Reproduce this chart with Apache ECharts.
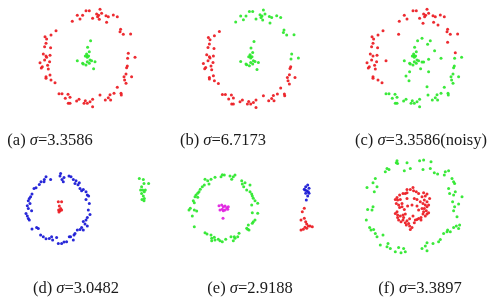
<!DOCTYPE html>
<html><head><meta charset="utf-8">
<script src="https://cdn.jsdelivr.net/npm/echarts@6/dist/echarts.min.js"></script>
<style>html,body{margin:0;padding:0;background:#fff}#c{width:492px;height:306px}</style>
</head><body><div id="c"></div>
<script>
// Panels (a),(b): same two-circle data set. Units: px relative to ring centre, y up.
const ringArcB = [[12.7,48.7],[-1.3,47.3],[2,47.3],[9.3,44],[11.3,42.7],[10.3,41.3],[14.3,44.7],[18.7,42.3],[21,41.3],[26,43],[30,41.3],[-10,42.7],[-4.7,42.7],[-7.3,39],[5.3,39.7],[12,38.7],[-15,36.7],[19.3,35.7],[33.3,28.7],[32.7,26.3],[36,23.7],[43.3,24],[41,4.7],[40.3,-0.3],[47.7,0.7]];
const ringRestB = [[-31.3,27.3],[-42.3,21.3],[-36.3,23],[-40.7,19],[-41.3,14.7],[-42.7,11.3],[-36.7,10.3],[-44,4],[-40.7,0.7],[-41.3,2],[-37.3,2.7],[-42.7,-2],[-37.7,-3.7],[-47.3,-4.7],[-45,-8.7],[-46,-10],[-39.7,-7.3],[-39,-11],[-37.3,-17],[-41.3,-18.7],[-41.3,-20.3],[-36.3,-22],[-32.3,-24.7],[40,-8],[39.3,-9.7],[38.7,-16],[36.7,-18.7],[44.3,-18.7],[37.3,-22],[38.7,-25.3],[30,-29.3],[33.7,-35.3],[26.7,-35.3],[34,-37],[22.7,-36.7],[21,-39.7],[18,-42],[23.3,-42],[12.7,-37],[-28.3,-35.7],[-25.3,-35.7],[-19.3,-36.3],[-22,-40.3],[-17.3,-39.3],[-8.3,-41.3],[-10.7,-43],[-19,-45.3],[-17.3,-45.3],[-2,-42.7],[0,-45.3],[-3.3,-45.3],[5.3,-41.3],[2.7,-43.7],[5.3,-48.7]];
const coreAB = [[3.3,17.3],[0.3,10.7],[2,6.3],[-0.7,4],[-2,2],[0,2],[1.3,2],[0,0.7],[2.7,-2],[4.3,-2.7],[0,-3.7],[2,-5.3],[-1.3,-7],[-4,-6],[-10,-2.7],[7.7,-3.7],[6.3,-10.7],[-4.7,-5.3]];

// Panel (c): noisy data set
const cRed = [[12.7,48.7],[-1.3,47.3],[2,47.3],[9.3,44],[11.3,42.7],[10.3,41.3],[14.3,44.7],[18.7,42.3],[21,41.3],[26,43],[30,41.3],[-10,42.7],[-7.3,39],[5.3,39.7],[-15,36.7],[19.3,35.7],[23.7,33],[8.7,34.7],[-31.3,27.3],[33.3,28.7],[32.7,26.3],[36,23.7],[43.3,24],[-15.7,23.7],[-42.3,21.3],[-36.3,23],[-40.7,19],[-41.3,14.7],[-42.7,11.3],[-36.7,10.3],[33.3,15.7],[-44,4],[-41.3,2],[-37.3,2.7],[-42.7,-2],[-37.7,-3.7],[-47.3,-4.7],[-45,-8.7],[-46,-10],[-39.7,-7.3],[-39,-11],[-28.3,-2.7],[-41.3,-18.7],[-41.3,-20.3],[-36.3,-22],[-32.3,-24.7],[41,5.3]];
const cGreen = [[0.3,10.7],[2,6.3],[-0.7,4],[-2,2],[0,2],[1.3,2],[0,0.7],[2.7,-2],[4.3,-2.7],[0,-3.7],[2,-5.3],[-1.3,-7],[-4,-6],[-10,-2.7],[-4.7,-5.3],[6.3,-10.7],[3.3,17.3],[7.7,19.7],[16,17.3],[13.3,13.7],[20.3,7.3],[26.7,-0.3],[14.3,-1.3],[9.3,-4],[7.7,-4],[-4.7,-13.7],[14.3,-13.7],[-8.3,-18],[-5.3,-22.7],[12.7,-28.7],[40.3,-0.3],[47.3,0.7],[40,-8],[39.3,-9.7],[38.7,-16],[36.7,-18.7],[44.3,-18.7],[37.3,-22],[38.7,-25.3],[30,-29.3],[33.7,-35.3],[26.7,-35.3],[34,-37],[22.7,-36.7],[21,-39.7],[18,-42],[23.3,-42],[13.7,-37],[-28.3,-35.7],[-25.3,-35.7],[-19.3,-36.3],[-22,-40.3],[-17.3,-39.3],[-8.3,-41.3],[-10.7,-43],[-19,-45.3],[-17.3,-45.3],[-2,-42.7],[0,-45.3],[-3.3,-45.3],[5.3,-41.3],[2.7,-43.7],[5.3,-48.7]];

// Panel (d)
const dBlue = [[2.3,35.3],[1.7,32.7],[5.7,31.3],[3.7,29.3],[5,27],[10.7,32.7],[12.7,32],[15,29.3],[17.7,28],[21,26],[19.7,24],[16.7,25.3],[-7.7,29.3],[-12.3,32],[-14,29.3],[-17.3,27],[-19,24.3],[-14.3,27],[-22.3,21],[-24.3,20.3],[-26.3,14.7],[-27.7,12],[-29,10.3],[-30,8],[-28.3,5.3],[-31,3],[-30,0.3],[-26.7,-2],[-32.3,-4.7],[-31,-7.3],[-30,-9.7],[-29,-11.3],[21.7,20.3],[23.3,18],[25,19.3],[27.7,17],[29,13.7],[30.3,12.7],[27.7,9.3],[31,5.3],[30,-1.3],[31.7,-5.7],[29,-8.7],[27.7,-11.3],[25,-12.7],[26.7,-15.3],[29,-17.3],[23.3,-18.7],[21.7,-20.7],[19,-21.3],[25,-21.3],[-26.3,-20.3],[-21.7,-18.7],[-20,-19.7],[-17.7,-26.3],[-15,-28],[-12.3,-30],[-9,-29.7],[-6.7,-28],[-5.7,-31.3],[-1.7,-28.7],[0,-34.7],[3.3,-34.7],[5.7,-33.3],[8.3,-33],[12.3,-28],[15,-31.3],[15.7,-26.3],[11,-28],[16.7,-24.7]];
const dRed = [[0,7],[3.3,7],[1,2.7],[2.3,0.3],[0.3,-1.3],[3.3,-1.3],[1.7,-2],[0.7,-3.3]];
const dGreen = [[81,30.3],[85,29.3],[90.3,25.3],[85.7,25.3],[83.3,22],[82.3,18.7],[84.3,18.7],[87,18.7],[86,17],[83.3,15.3],[85,12.7],[86,10.3],[83.7,9.3],[85.7,8]];

// Panel (e)
const eGreen = [[-1.7,33.3],[0.3,33],[-3,31.3],[6,32],[9.3,31.3],[11,33],[7.7,28.7],[-9,30.7],[-13,28.7],[-16.3,27.3],[-19,28.7],[-15,24],[-19.7,23],[-21.7,21.3],[-23.7,18.7],[-25,16.3],[-26.3,14.7],[-28,13],[-29,11.3],[-26.3,10.7],[-30.7,7.3],[-29.7,5.3],[17.7,27.3],[18.3,24],[21,25.3],[19.7,21.3],[26,23],[22.7,18],[26,16.3],[27.7,14],[28.3,12],[29.3,9.7],[31,7.3],[33.7,4.7],[27.7,3],[28.3,-4.7],[33.7,-5.3],[-33.7,-0.3],[-35,-2],[-29.7,-2],[-27.3,-3],[-31.7,-8],[-29.7,-18.7],[31,-12],[29.3,-13.7],[28.3,-15.3],[24.3,-17],[22.7,-20.3],[25,-22],[23.7,-21.3],[15,-25.3],[13.7,-28.7],[11,-30.3],[9.3,-32.7],[10.3,-28.7],[-19,-24.7],[-17,-26],[-13,-27],[-12.3,-30.3],[-9.7,-29.3],[-9,-32],[-5.7,-31.3],[-4,-32.7],[-1.7,-33.7],[1.7,-31.3],[7,-28.7],[-12.3,-32.7]];
const eMagenta = [[-2.3,3],[-5,2.3],[-0.7,1.3],[1,2],[2.7,0.3],[3.7,-1.3],[1,-2],[-0.7,-2.7],[-1.7,-1.3],[-4,-2],[-1,-10.3],[4.3,1.3]];
const eBlue = [[83.7,23],[81.7,21.3],[85,19.7],[80.3,18.7],[82.7,17.3],[84.3,16.3],[85,14.7],[81.7,14.7],[83.7,12],[81,18],[82.3,8]];
const eRed = [[80.3,-0.3],[78.3,-3.7],[77,-12],[80.3,-10.3],[81.7,-13.7],[82.7,-16],[84.3,-18],[86,-18],[88.3,-18.7],[81,-19.3],[79.3,-21.3],[77,-22],[82.7,-20.3]];

// Panel (f)
const fGreen = [[-17.3,46],[-16.7,43.3],[-18,44],[-7.3,44],[5.3,46],[9.3,46.7],[16.7,45],[-27.3,38.3],[-29,35],[-25.3,37.3],[-10,36],[-4,38.3],[8.7,37.3],[16,38.3],[20,34],[23.3,32.7],[31,35],[30,31.7],[34.3,36],[-39,28.3],[-41.3,24],[-37.3,20],[-47.3,19.3],[-40,15],[37.7,28.3],[39.3,25],[40.3,23.3],[34.3,18.3],[35.3,13.3],[39.3,11.7],[41,15],[47.7,10],[38.3,5],[44.3,2.7],[40.3,0],[39.3,-4],[-46.7,-2.7],[-41.3,0],[-42.3,-3.3],[42.7,-10],[-48,-13.3],[-44.7,-20.7],[-43.3,-23.3],[-40.7,-22.7],[-39,-26.7],[-37.3,-30],[-31.3,-28.3],[-34,-38.3],[-27.3,-40],[-24,-41.7],[-19,-45],[-15.7,-40.7],[-10.7,-41.7],[-9,-45],[-13.3,-46],[7.7,-41.7],[11,-39.3],[12.7,-44],[12.7,-36],[18.7,-36.7],[24.3,-35],[26,-32.7],[29.3,-26.7],[33.3,-23.3],[36,-25],[39.3,-20.7],[42,-19.3],[44.3,-21.7],[45.3,-18.3],[-26.3,-36.7],[32.7,-25]];
const fRed = [[-7.3,17.3],[-9,13.3],[-11.3,13.3],[-14.7,11.7],[-17.3,9.3],[-19,7.3],[-16.7,6.7],[-14,7.3],[-12.3,3.3],[-18,3.3],[-15.7,1.7],[-14.7,-0.7],[-12.3,0],[-17.3,-5],[-19,-6.7],[-16.7,-8.3],[-14,-9.3],[-11.3,-8.3],[-9,-7.3],[-16.7,-10.7],[-15.7,-13.3],[-13.3,-15],[-11.3,-13.3],[-9,-16],[-7.3,-14],[-5.7,-16.7],[-4.7,-19.3],[-8,-18.3],[-2.3,-20.7],[-4,-22.7],[0,-16],[1,-13.3],[2.7,-12.7],[4.3,-11.7],[6.7,-10.7],[8.7,-7.3],[11,-9.3],[12.7,-7.3],[14.3,-6],[6.7,-13.3],[9.3,-5],[12,-4],[10,-1.7],[12.7,0],[14.3,1.7],[11,1.7],[8.7,3.3],[12.7,5],[10,6.7],[6,5],[7.7,10],[11,10.7],[12.7,12.7],[9.3,14],[4.3,13.3],[2,15],[-0.7,16],[-4,17.3],[-1.3,19.3],[-7.3,8.3],[0,8.3],[2.7,7.3],[-6.7,0.7],[-2.3,1.7],[-10,-2.7],[-10.7,-10.7],[-4.7,-12],[-1.3,-9.3],[4.3,-3.3],[7.7,-1.7],[15.3,8.3],[-7.3,14],[2.7,0.7]];

const captions = [
  ['(a) ', '3.3586'], ['(b) ', '6.7173'], ['(c) ', '3.3586(noisy)'],
  ['(d) ', '3.0482'], ['(e) ', '2.9188'], ['(f) ', '3.3897']
];

const RED = '#ec2026', GREEN = '#30e830', BLUE = '#1c1cd6', MAGENTA = '#e024e0';

// panel layout: centre in px, axis half-ranges (1 unit = 1 px)
const panels = [
  {cx: 87.3, cy: 58, x0: -60, x1: 60, y0: -55, y1: 55},
  {cx: 250.7, cy: 58.7, x0: -60, x1: 60, y0: -55, y1: 55},
  {cx: 414.3, cy: 58, x0: -60, x1: 60, y0: -55, y1: 55},
  {cx: 58.3, cy: 208.7, x0: -40, x1: 100, y0: -45, y1: 45},
  {cx: 224, cy: 208, x0: -40, x1: 100, y0: -45, y1: 45},
  {cx: 414.3, cy: 206.7, x0: -55, x1: 55, y0: -52, y1: 52}
];
const grids = [], xAxes = [], yAxes = [];
panels.forEach((p, i) => {
  grids.push({left: p.cx + p.x0, top: p.cy - p.y1, width: p.x1 - p.x0, height: p.y1 - p.y0, show: false});
  xAxes.push({gridIndex: i, type: 'value', min: p.x0, max: p.x1, show: false});
  yAxes.push({gridIndex: i, type: 'value', min: p.y0, max: p.y1, show: false});
});
function sc(i, data, color) {
  return {type: 'scatter', xAxisIndex: i, yAxisIndex: i, data: data, symbol: 'circle', symbolSize: 3,
    itemStyle: {color: color, opacity: 0.95}, silent: true, animation: false};
}
const series = [
  sc(0, ringArcB, RED), sc(0, ringRestB, RED), sc(0, coreAB, GREEN),
  sc(1, ringArcB, GREEN), sc(1, ringRestB, RED), sc(1, coreAB, GREEN),
  sc(2, cRed, RED), sc(2, cGreen, GREEN),
  sc(3, dBlue, BLUE), sc(3, dRed, RED), sc(3, dGreen, GREEN),
  sc(4, eGreen, GREEN), sc(4, eMagenta, MAGENTA), sc(4, eBlue, BLUE), sc(4, eRed, RED),
  sc(5, fGreen, GREEN), sc(5, fRed, RED)
];
const capPos = [[50, 132], [223, 132], [421, 132], [76, 280], [250, 280], [420, 280]];
const graphic = captions.map((c, i) => ({
  type: 'text', x: capPos[i][0], y: capPos[i][1], silent: true,
  style: {
    text: c[0] + '{s|σ}=' + c[1],
    font: '16.5px "Liberation Serif", "DejaVu Serif", serif',
    fill: '#1a1a1a', align: 'center', verticalAlign: 'top',
    rich: {s: {fontStyle: 'italic', fontSize: 16.5, fontFamily: '"Liberation Serif", serif', fill: '#1a1a1a'}}
  }
}));
const chart = echarts.init(document.getElementById('c'), null, {renderer: 'canvas'});
chart.setOption({animation: false, backgroundColor: '#fff', grid: grids, xAxis: xAxes, yAxis: yAxes, series: series, graphic: graphic});
</script></body></html>
